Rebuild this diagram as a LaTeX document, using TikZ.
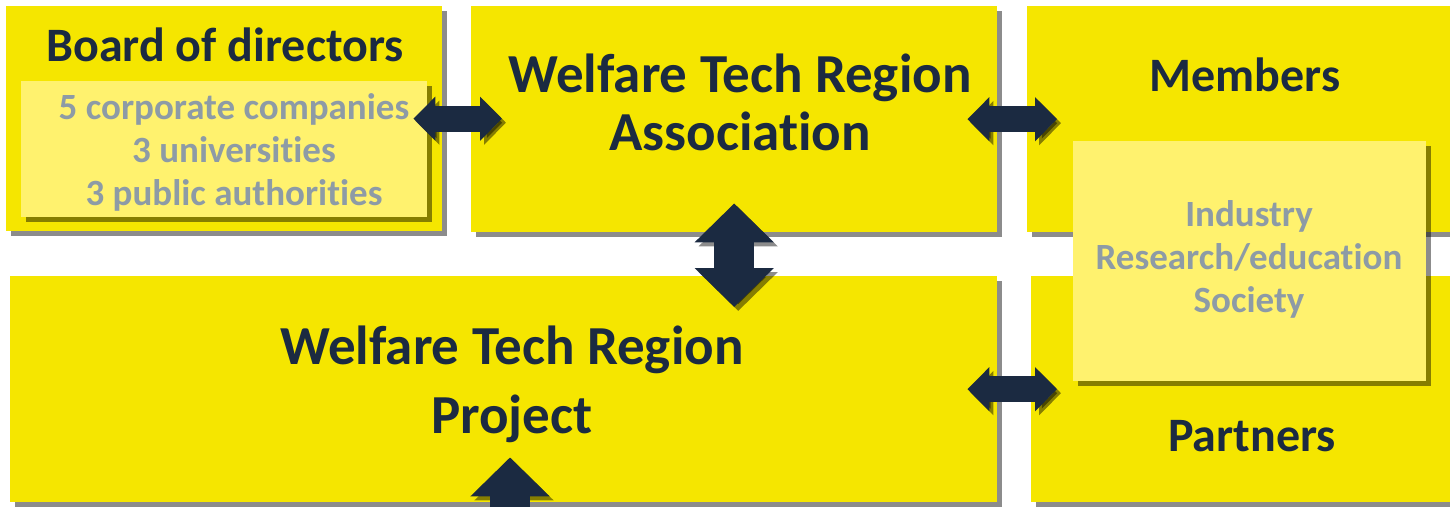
\documentclass[tikz,border=0pt]{standalone}
\usepackage{fontspec}
\setmainfont{Carlito}[Ligatures=CommonOff]
\usepackage{xcolor}
\usetikzlibrary{arrows.meta,shadows}

\definecolor{wtryellow}{HTML}{F5E600}
\definecolor{wtrlight}{HTML}{FFF26E}
\definecolor{wtrnavy}{HTML}{1B2A41}
\definecolor{wtrgray}{HTML}{8D9BA6}

\begin{document}
\begin{tikzpicture}[x=1pt,y=-1pt]
\tikzset{box/.style={fill=wtryellow,anchor=north west,inner sep=0pt,drop shadow={shadow xshift=5pt,shadow yshift=-5pt,fill=black,opacity=.45}}}
\tikzset{inbox/.style={box,fill=wtrlight}}
\tikzset{title/.style={text=wtrnavy,font=\bfseries\fontsize{48}{55}\selectfont,anchor=base,inner sep=0pt}}
\tikzset{bigtitle/.style={text=wtrnavy,font=\bfseries\fontsize{55}{58}\selectfont,align=center,inner sep=0pt}}
\tikzset{list/.style={text=wtrgray,font=\bfseries\fontsize{37}{43}\selectfont,align=center,inner sep=0pt}}
\tikzset{link/.style={draw=wtrnavy,line width=26pt,>={Triangle[length=22pt,width=43pt]},<->,preaction={draw=black,opacity=.45,transform canvas={xshift=4pt,yshift=-4pt}}}}
\tikzset{biglink/.style={link,line width=40pt,>={Triangle[length=39pt,width=77pt]}}}

\useasboundingbox (0,0) rectangle (1450,506);
\clip (0,0) rectangle (1450,506);

\node[box,minimum width=436pt,minimum height=225pt] (board) at (6,6) {};
\node[box,minimum width=526pt,minimum height=226pt] (assoc) at (471,6) {};
\node[box,minimum width=430pt,minimum height=226pt] (members) at (1027,6) {};
\node[box,minimum width=987pt,minimum height=226pt] (project) at (10,276) {};
\node[box,minimum width=425pt,minimum height=226pt] (partners) at (1031,276) {};
\node[inbox,minimum width=406pt,minimum height=136pt] (directors) at (21,81) {};
\node[inbox,minimum width=353pt,minimum height=240pt] (kinds) at (1073,141) {};

\node[title] (boardname) at (225,61) {Board of directors};
\node[title] (membername) at (1245,91) {Members};
\node[title] (partnername) at (1252,451) {Partners};
\node[bigtitle] (assocname) at (740,102) {Welfare Tech Region\\Association};
\node[bigtitle,font=\bfseries\fontsize{55}{69}\selectfont] (projname) at (512,384) {Welfare Tech Region\\Project};
\node[list] (dirlist) at (234,152) {5 corporate companies\\3 universities\\3 public authorities};
\node[list] (kindlist) at (1249,259) {Industry\\Research/education\\Society};

\draw[link,shorten <=-29pt,shorten >=-31pt] (board.east) -- (board.east -| assoc.west);
\draw[link,shorten <=-30pt,shorten >=-30pt] (assoc.east) -- (assoc.east -| members.west);
\draw[link,shorten <=-30pt,shorten >=-26pt] (project.east) -- (project.east -| partners.west);
\draw[biglink,shorten <=-29pt,shorten >=-31pt] (assoc.south) -- (assoc.south |- project.north);

\coordinate (feed) at (510,560);
\draw[biglink,->,shorten >=-45pt] (feed) -- (feed |- project.south);

\end{tikzpicture}
\end{document}
